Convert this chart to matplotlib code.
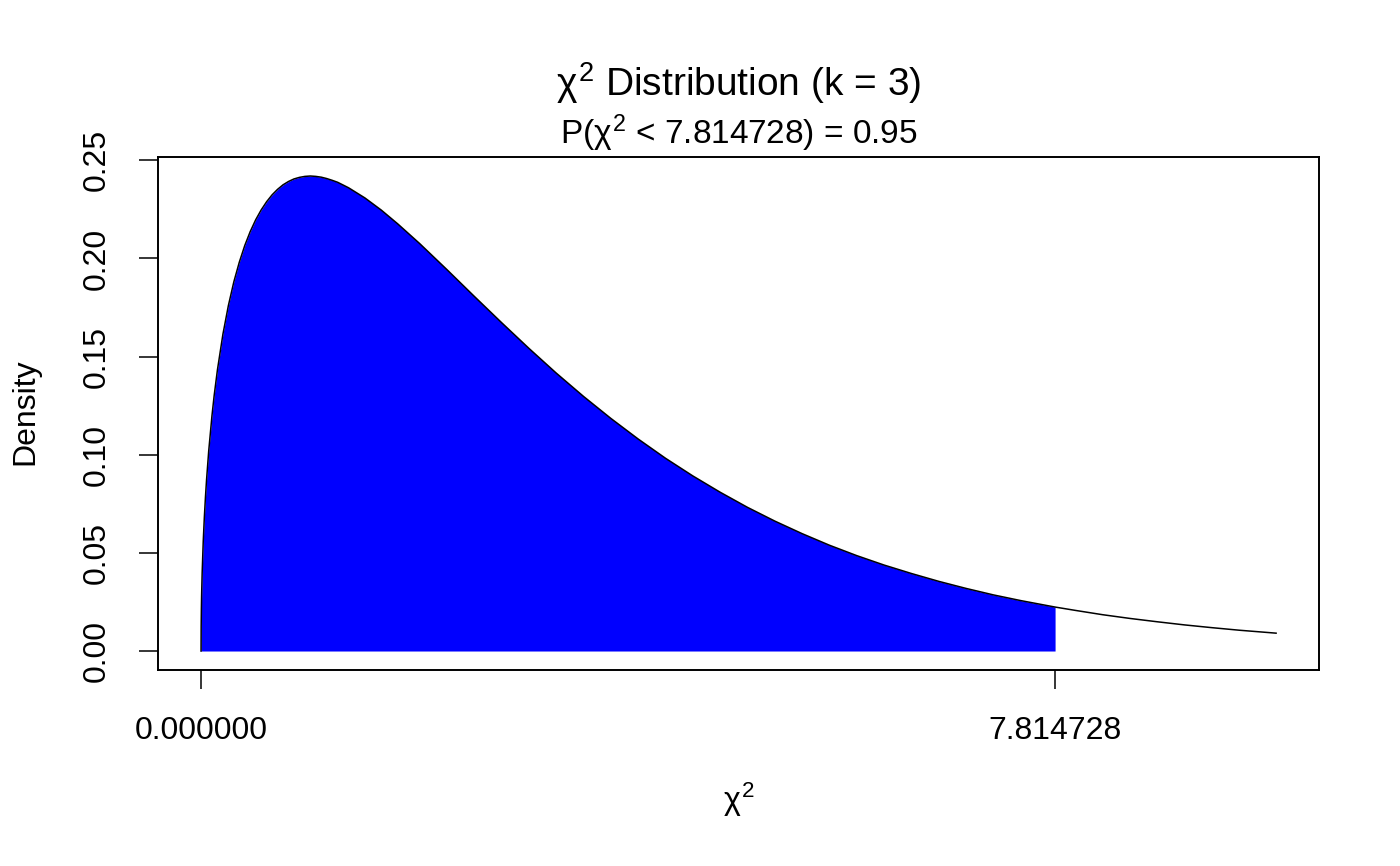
import matplotlib
matplotlib.use("Agg")
import matplotlib.pyplot as plt
import numpy as np

plt.rcParams['font.family'] = ['Liberation Sans', 'DejaVu Sans']
plt.rcParams['mathtext.fontset'] = 'custom'
plt.rcParams['mathtext.rm'] = 'Liberation Sans'
plt.rcParams['mathtext.it'] = 'Liberation Sans'
plt.rcParams['mathtext.bf'] = 'Liberation Sans'

# density curve of chi-square (k = 3)
chi_x = [0, 0.001, 0.003, 0.005, 0.01, 0.02, 0.03, 0.04, 0.05, 0.07, 0.1, 0.12, 0.15,
         0.2, 0.25, 0.3, 0.35, 0.4, 0.45, 0.5, 0.55, 0.6, 0.65, 0.7, 0.75, 0.8, 0.85,
         0.9, 0.95, 1.0, 1.05, 1.1, 1.15, 1.2, 1.25, 1.35, 1.5, 1.65, 1.8, 2.0, 2.25,
         2.5, 2.75, 3.0, 3.25, 3.5, 3.75, 4.0, 4.25, 4.5, 4.75, 5.0, 5.25, 5.5, 5.75,
         6.0, 6.25, 6.5, 6.75, 7.0, 7.25, 7.5, 7.814728, 8.0, 8.25, 8.5, 8.75, 9.0,
         9.25, 9.5, 9.837]
density = [0, 0.0126, 0.0218, 0.0281, 0.0397, 0.0559, 0.0681, 0.0782, 0.0870, 0.1019,
           0.1200, 0.1302, 0.1433, 0.1614, 0.1760, 0.1881, 0.1981, 0.2066, 0.2137,
           0.2197, 0.2247, 0.2289, 0.2324, 0.2352, 0.2375, 0.2392, 0.2405, 0.2413,
           0.2418, 0.2420, 0.2418, 0.2414, 0.2407, 0.2398, 0.2388, 0.2360, 0.2308,
           0.2246, 0.2176, 0.2076, 0.1943, 0.1807, 0.1673, 0.1542, 0.1416, 0.1297,
           0.1185, 0.1080, 0.0982, 0.0892, 0.0809, 0.0732, 0.0662, 0.0598, 0.0539,
           0.0486, 0.0438, 0.0395, 0.0355, 0.0319, 0.0286, 0.0257, 0.0224, 0.0207,
           0.0185, 0.0166, 0.0149, 0.0133, 0.0119, 0.0106, 0.0091]
crit = 7.814728
prob = 0.95
y_ticks = [0.00, 0.05, 0.10, 0.15, 0.20, 0.25]
x_ticks = [0, crit]
x_ticklabels = ['0.000000', '7.814728']

chi_x = np.array(chi_x)
density = np.array(density)

fig = plt.figure(figsize=(14, 8.66), dpi=100)
ax = fig.add_axes([0.1129, 0.2263, 0.8293, 0.5924])

mask = chi_x <= crit + 1e-9
ax.fill_between(chi_x[mask], 0, density[mask], color='#0000ff', lw=0)
ax.plot(chi_x, density, color='black', lw=1.1)

xr = chi_x.max() - chi_x.min()
ax.set_xlim(chi_x.min() - 0.04 * xr, chi_x.max() + 0.04 * xr)
yr = density.max()
ax.set_ylim(-0.04 * yr, yr + 0.04 * yr)

ax.set_xticks(x_ticks)
ax.set_xticklabels(x_ticklabels)
ax.set_yticks(y_ticks)
ax.set_yticklabels(['%.2f' % v for v in y_ticks])
for lbl in ax.get_yticklabels():
    lbl.set_rotation(90)
    lbl.set_va('center')
ax.tick_params(axis='both', direction='out', length=14, width=1.1, labelsize=23, pad=19)
for s in ax.spines.values():
    s.set_linewidth(1.4)

cx = 0.5275
fig.text(cx, 1 - 83 / 866, r'$\chi^2$ Distribution (k = 3)',
         ha='center', va='center', fontsize=28)
fig.text(cx, 1 - 133 / 866, r'P($\chi^2$ < %.6f) = %.2f' % (crit, prob),
         ha='center', va='center', fontsize=24)
fig.text(cx, 1 - 800 / 866, r'$\chi^2$', ha='center', va='center', fontsize=23)
fig.text(25 / 1400, 1 - 412 / 866, 'Density', ha='center', va='center',
         rotation=90, fontsize=23)

fig.savefig('out.png', dpi=100)
